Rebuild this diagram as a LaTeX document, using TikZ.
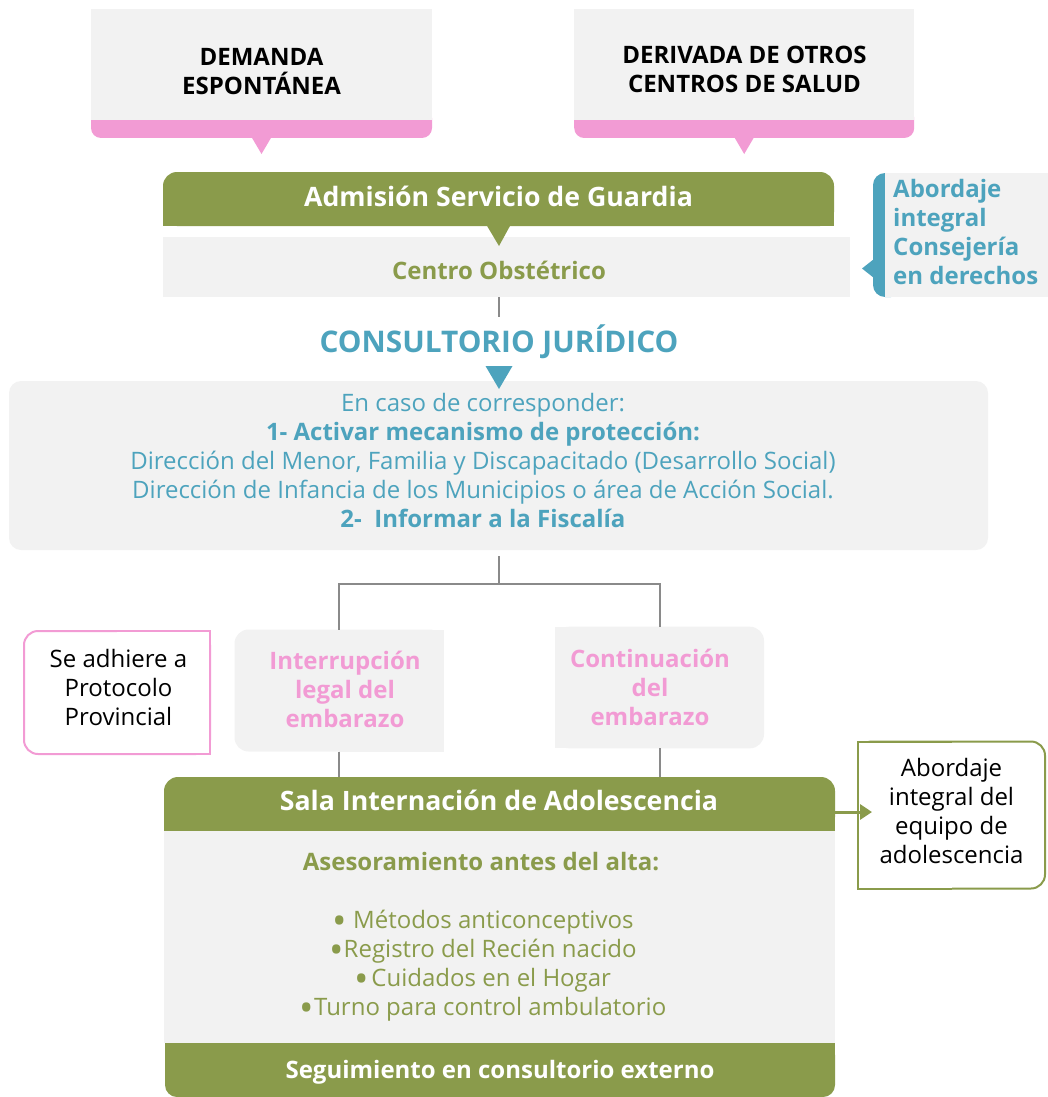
\documentclass[tikz,border=0pt]{standalone}
\usepackage{fontspec}
\setmainfont{Open Sans}
\usetikzlibrary{calc,arrows.meta}
\definecolor{bgg}{HTML}{F2F2F2}
\definecolor{pk}{HTML}{F29BD4}
\definecolor{gr}{HTML}{8A9B4B}
\definecolor{bl}{HTML}{4DA3BD}
\definecolor{ln}{HTML}{8A8A8A}
\newcommand\bul{\smash{\raisebox{-0.25em}{\scalebox{1.6}{•}}}}
\begin{document}
\begin{tikzpicture}[x=1pt,y=-1pt,
  geo/.style={rectangle,inner sep=0pt,outer sep=0pt},
  reg/.style={inner sep=0pt,align=center,font=\fontsize{24}{29}\selectfont},
  bld/.style={inner sep=0pt,align=center,font=\fontsize{24}{29}\selectfont\bfseries},
  ttl/.style={inner sep=0pt,align=center,font=\fontsize{26.7}{31}\selectfont\bfseries,text=white},
  conn/.style={draw=ln,line width=2pt},
]
\useasboundingbox (0,0) rectangle (1048,1097);

% top-left
\node[geo,minimum width=341pt,minimum height=129pt] (dem) at (261.5,73.5) {};
\fill[pk,rounded corners=10pt] ($(dem.south west)+(0,-30)$) rectangle (dem.south east);
\fill[bgg] (dem.north west) rectangle ($(dem.south east)+(0,-18)$);
\fill[pk] ($(dem.south)+(-10,-1)$) -- ($(dem.south)+(10,-1)$) -- ($(dem.south)+(0,16)$) -- cycle;
\node[bld] (demt) at (261.5,71.5) {DEMANDA\\ESPONTÁNEA};

% top-right
\node[geo,minimum width=340pt,minimum height=129pt] (der) at (744.2,73.5) {};
\fill[pk,rounded corners=10pt] ($(der.south west)+(0,-30)$) rectangle (der.south east);
\fill[bgg] (der.north west) rectangle ($(der.south east)+(0,-18)$);
\fill[pk] ($(der.south)+(-10,-1)$) -- ($(der.south)+(10,-1)$) -- ($(der.south)+(0,16)$) -- cycle;
\node[bld] (dert) at (744.5,69) {DERIVADA DE OTROS\\CENTROS DE SALUD};

% admision
\node[geo,minimum width=671pt,minimum height=54pt] (adm) at (498.5,199) {};
\fill[gr,rounded corners=14pt] (adm.north west) rectangle (adm.south east);
\fill[gr] (adm.west) rectangle (adm.south east);
% centro obstetrico
\node[geo,minimum width=687pt,minimum height=60pt] (cen) at (506.5,267) {};
\fill[bgg] (cen.north west) rectangle (cen.south east);
\fill[gr] ($(adm.south)+(-12,-1)$) -- ($(adm.south)+(12,-1)$) -- ($(adm.south)+(0.5,20)$) -- cycle;
\node[ttl,anchor=base] (admt) at (498.5,206.5) {Admisión Servicio de Guardia};
\node[bld,text=gr,anchor=base] (cent) at (499,279.3) {Centro Obstétrico};

% side box
\node[geo,minimum width=175pt,minimum height=124pt] (side) at (960.5,235) {};
\fill[bl,rounded corners=12pt] (side.north west) rectangle ($(side.south west)+(30,0)$);
\fill[bgg] ($(side.north west)+(12,0)$) rectangle (side.south east);
\fill[bl] ($(side.south west)+(1,-38)$) -- ($(side.south west)+(-11,-28.5)$) -- ($(side.south west)+(1,-19)$) -- cycle;
\node[bld,text=bl,align=left,anchor=west] (sidet) at (893,232) {Abordaje\\integral\\Consejería\\en derechos};

% consultorio
\node[bld,text=bl,font=\fontsize{29.8}{34}\selectfont\bfseries,anchor=base] (cons) at (499,352) {CONSULTORIO JURÍDICO};
\coordinate (c1) at ($(cen.south -| adm.south)+(0.5,19.5)$);
\draw[conn] ($(cen.south -| adm.south)+(0.5,0)$) -- (c1);

% big box
\node[geo,minimum width=979pt,minimum height=169pt,fill=bgg,rounded corners=12pt] (big) at (498.5,465.5) {};
\fill[bl] ($(big.north)+(-13,-15)$) -- ($(big.north)+(14,-15)$) -- ($(big.north)+(0.5,8)$) -- cycle;
\node[reg,text=bl] (bigt) at (483,460.8) {En caso de corresponder:\\\textbf{1- Activar mecanismo de protección:}\\Dirección del Menor, Familia y Discapacitado (Desarrollo Social)\\Dirección de Infancia de los Municipios o área de Acción Social.\\\textbf{2-\ \ Informar a la Fiscalía}};

% fork
\draw[conn] ($(big.south)+(0.5,6)$) -- ++(0,27.5) coordinate (fork);

% ile / continuacion
\node[geo,minimum width=209pt,minimum height=122pt] (ile) at (339,690.5) {};
\fill[bgg,rounded corners=14pt] (ile.north west) rectangle (ile.south east);
\fill[bgg] (ile.north) rectangle (ile.south east);
\node[bld,text=pk] (ilet) at (345,689) {Interrupción\\legal del\\embarazo};

\node[geo,minimum width=209pt,minimum height=121.6pt] (cont) at (659.5,687.5) {};
\fill[bgg,rounded corners=14pt] (cont.north west) rectangle (cont.south east);
\fill[bgg] (cont.north west) rectangle (cont.south);
\node[bld,text=pk] (contt) at (650,687.4) {Continuación\\del\\embarazo};

\draw[conn] (ile.north) -- (ile.north |- fork) -- (cont.north |- fork) -- (cont.north);

% protocolo
\node[geo,minimum width=186pt,minimum height=123pt] (proto) at (117,692.5) {};
\draw[pk,line width=2pt,fill=white,rounded corners=14pt] (proto.north west) rectangle (proto.south east);
\fill[white] (proto.north) rectangle (proto.south east);
\draw[pk,line width=2pt] (proto.north) -- (proto.north east) -- (proto.south east) -- (proto.south);
\node[reg] (protot) at (118.5,687) {Se adhiere a\\Protocolo\\Provincial};

% sala
\node[geo,minimum width=671pt,minimum height=54pt] (sala) at (499.5,804) {};
\fill[gr,rounded corners=14pt] (sala.north west) rectangle (sala.south east);
\fill[gr] (sala.west) rectangle (sala.south east);
\node[ttl,anchor=base] (salat) at (499,810.7) {Sala Internación de Adolescencia};

\draw[conn] (ile.south) -- (ile.south |- sala.north);
\draw[conn] (cont.south) -- (cont.south |- sala.north);

% asesoramiento
\node[geo,minimum width=671pt,minimum height=212pt,fill=bgg] (ases) at (499.5,937) {};
\node[bld,text=gr,anchor=base] (asest) at (481,870) {Asesoramiento antes del alta:};
\node[reg,text=gr] (list) at (483,966) {\bul\ Métodos anticonceptivos\\\bul Registro del Recién nacido\\\bul\kern2pt Cuidados en el Hogar\\\bul Turno para control ambulatorio};

% seguimiento
\node[geo,minimum width=670pt,minimum height=54pt] (seg) at (500,1070) {};
\fill[gr,rounded corners=12pt] (seg.north west) rectangle (seg.south east);
\fill[gr] (seg.north west) rectangle (seg.east);
\node[bld,text=white,anchor=base] (segt) at (500,1078.3) {Seguimiento en consultorio externo};

% equipo
\node[geo,minimum width=187pt,minimum height=147pt] (eq) at (951.5,815) {};
\draw[gr,line width=2pt,fill=white,rounded corners=14pt] (eq.north west) rectangle (eq.south east);
\fill[white] (eq.north west) rectangle (eq.south);
\draw[gr,line width=2pt] (eq.north) -- (eq.north west) -- (eq.south west) -- (eq.south);
\node[reg] (eqt) at (951.5,811.4) {Abordaje\\integral del\\equipo de\\adolescencia};

% arrow
\coordinate (ar) at ($(eq.west)+(14,-3)$);
\draw[gr,line width=3pt,-{Triangle[length=12pt,width=15pt]}] (sala.east |- ar) -- (ar);
\end{tikzpicture}
\end{document}
